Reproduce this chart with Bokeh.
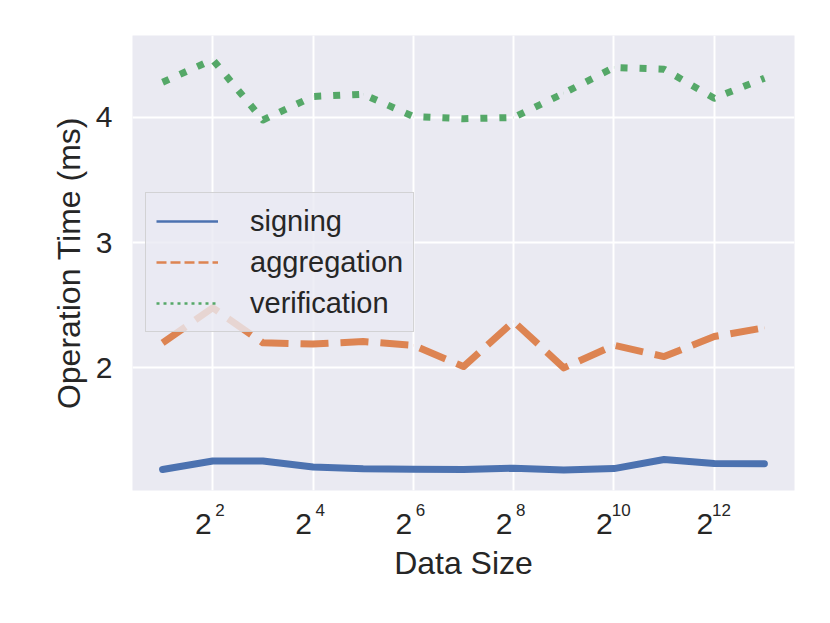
from bokeh.plotting import figure
from bokeh.models import (ColumnDataSource, Range1d, FixedTicker, CustomJSTickFormatter,
                          Legend, LegendItem, LogAxis, LogScale)
from bokeh.embed import file_html
from bokeh.resources import INLINE

# ---- data ----
data_size = [2, 4, 8, 16, 32, 64, 128, 256, 512, 1024, 2048, 4096, 8192]
signing = [1.188, 1.256, 1.255, 1.208, 1.193, 1.190, 1.187, 1.198, 1.184, 1.195, 1.268, 1.236, 1.233]
aggregation = [2.20, 2.48, 2.20, 2.19, 2.21, 2.18, 2.01, 2.37, 2.00, 2.18, 2.09, 2.25, 2.32]
verification = [4.282, 4.462, 3.980, 4.168, 4.186, 4.008, 3.990, 4.000, 4.194, 4.400, 4.386, 4.154, 4.314]

xtick_values = [4, 16, 64, 256, 1024, 4096]
xtick_base = ["2", "2", "2", "2", "2", "2"]
xtick_exponents = ["2", "4", "6", "8", "10", "12"]
ytick_values = [2, 3, 4]

series_names = ["signing", "aggregation", "verification"]
colors = ["#4C72B0", "#DD8452", "#55A868"]

FONT = "Liberation Sans"
TEXT = "#262626"
BG = "#EAEAF2"

X_LO, X_HI = 2 ** 0.4, 2 ** 13.6
FRAME_W = 662
PX_PER_OCT = FRAME_W / 13.2
EXP_SHIFT = 7.2      # exponent sits right of the tick
BASE_SHIFT = -9.5    # base digit sits left of the tick

JS_LOOKUP = """
    for (let i = 0; i < vals.length; i++) {
        if (Math.abs(vals[i] - tick) < 1e-6 * vals[i]) return labs[i];
    }
    return "";
"""

p = figure(width=814, height=607, output_backend="svg", toolbar_location=None,
           x_axis_type="log",
           x_range=Range1d(X_LO, X_HI), y_range=Range1d(1.02, 4.655),
           min_border_left=132, min_border_right=20, min_border_top=35, min_border_bottom=117,
           background_fill_color=BG, border_fill_color="white")
p.outline_line_color = None

f_exp = 2 ** (-EXP_SHIFT / PX_PER_OCT)
f_base = 2 ** (-BASE_SHIFT / PX_PER_OCT)
p.extra_x_ranges = {"exp": Range1d(X_LO * f_exp, X_HI * f_exp),
                    "base": Range1d(X_LO * f_base, X_HI * f_base)}
p.extra_x_scales = {"exp": LogScale(), "base": LogScale()}

# exponent axis (nearest the frame)
xa = p.xaxis[0]
xa.x_range_name = "exp"
xa.ticker = FixedTicker(ticks=xtick_values, minor_ticks=[])
xa.formatter = CustomJSTickFormatter(args=dict(vals=xtick_values, labs=xtick_exponents), code=JS_LOOKUP)
# base axis ("2"), just below the exponents
xb = LogAxis(x_range_name="base", ticker=FixedTicker(ticks=xtick_values, minor_ticks=[]),
             formatter=CustomJSTickFormatter(args=dict(vals=xtick_values, labs=xtick_base), code=JS_LOOKUP))
p.add_layout(xb, "below")

ya = p.yaxis[0]
ya.ticker = FixedTicker(ticks=ytick_values, minor_ticks=[])

for ax in (xa, xb, ya):
    ax.axis_line_color = None
    ax.major_tick_line_color = None
    ax.minor_tick_line_color = None
    ax.major_tick_out = 0
    ax.major_tick_in = 0
    ax.major_label_text_font = FONT
    ax.major_label_text_font_size = "30px"
    ax.major_label_text_color = TEXT
    ax.axis_label_text_font = FONT
    ax.axis_label_text_font_size = "32px"
    ax.axis_label_text_font_style = "normal"
    ax.axis_label_text_color = TEXT

xa.major_label_text_font_size = "17px"
xa.major_label_standoff = 13
xb.major_label_standoff = -5
xb.axis_label = "Data Size"
xb.axis_label_standoff = 8

ya.axis_label = "Operation Time (ms)"
ya.major_label_standoff = 20
ya.axis_label_standoff = 6

p.xgrid.grid_line_color = "white"
p.ygrid.grid_line_color = "white"
p.xgrid.grid_line_width = 2
p.ygrid.grid_line_width = 2

src = ColumnDataSource(dict(x=data_size, s=signing, a=aggregation, v=verification))

p.line("x", "s", source=src, line_color=colors[0], line_width=7, line_join="round", line_cap="round")
p.line("x", "a", source=src, line_color=colors[1], line_width=7, line_dash="28 12", line_join="round")
p.line("x", "v", source=src, line_color=colors[2], line_width=7, line_dash="7 12", line_join="round")

# thin legend keys: zero-length segments on the same points (invisible in the plot)
r_s = p.segment("x", "s", "x", "s", source=src, line_color=colors[0], line_width=2.7)
r_a = p.segment("x", "a", "x", "a", source=src, line_color=colors[1], line_width=2.7, line_dash="10 4")
r_v = p.segment("x", "v", "x", "v", source=src, line_color=colors[2], line_width=2.7, line_dash="3 4")

legend = Legend(items=[LegendItem(label=series_names[0], renderers=[r_s]),
                       LegendItem(label=series_names[1], renderers=[r_a]),
                       LegendItem(label=series_names[2], renderers=[r_v])],
                location=(13, 158))
legend.label_text_font = FONT
legend.label_text_font_size = "29px"
legend.label_text_color = TEXT
legend.glyph_width = 62
legend.glyph_height = 36
legend.label_height = 36
legend.label_standoff = 32
legend.spacing = 5
legend.padding = 10
legend.margin = 0
legend.background_fill_color = BG
legend.background_fill_alpha = 0.8
legend.border_line_color = "#CCCCCC"
legend.border_line_width = 1.5
legend.border_line_alpha = 0.8
p.add_layout(legend, "center")

open("out.html", "w").write(file_html(p, INLINE))
